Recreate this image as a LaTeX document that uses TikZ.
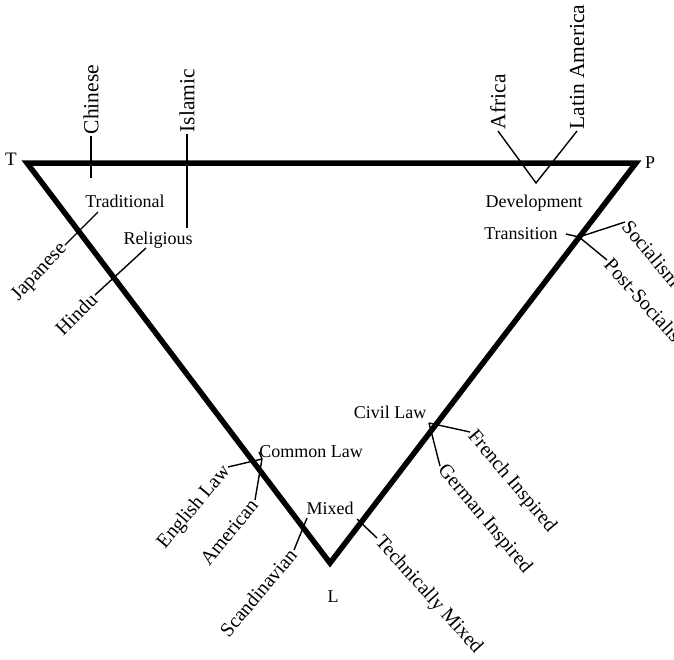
\documentclass[tikz,border=0pt]{standalone}
\usepackage{fontspec}
\setmainfont{Liberation Serif}
\begin{document}
\begin{tikzpicture}[x=1pt,y=-1pt,
  lbl/.style={inner sep=0pt, font=\fontsize{18}{20}\selectfont},
  rlbl/.style={inner sep=1.5pt, font=\fontsize{20}{22}\selectfont},
  vlbl/.style={inner sep=1.5pt, font=\fontsize{21.5}{24}\selectfont, rotate=90, anchor=west},
  tri/.style={line width=5.5pt, line join=miter},
  conn/.style={line width=1.4pt}]
\useasboundingbox (0,0) rectangle (674,659);
% triangle
\coordinate (T) at (27,163);
\coordinate (P) at (636,163);
\coordinate (L) at (330,563);
\draw[tri] (T) -- (P) -- (L) -- cycle;
\node[lbl, font=\fontsize{19}{22}\selectfont] (tT) at (11,159) {T};
\node[lbl] (tP) at (650,163) {P};
\node[lbl] (tL) at (333,597) {L};
% top left
\node[vlbl] (chinese) at (91,136) {Chinese};
\coordinate (chB) at (91,178);
\draw[conn] (chinese.west) -- (chB);
\node[vlbl] (islamic) at (187,134) {Islamic};
\coordinate (isB) at (187,228);
\draw[conn] (islamic.west) -- (isB);
\node[lbl] (trad) at (125,201) {Traditional};
\node[lbl] (relig) at (158,240) {Religious};
\coordinate (tradJ) at (98,212);
\node[rlbl, rotate=47, anchor=east] (japanese) at (65,245) {Japanese};
\draw[conn] (tradJ) -- (japanese.east);
\coordinate (religJ) at (146,248);
\node[rlbl, rotate=45, anchor=east] (hindu) at (95,295) {Hindu};
\draw[conn] (religJ) -- (hindu.east);
% top right
\node[vlbl] (africa) at (498,131) {Africa};
\node[vlbl] (latin) at (577,131) {Latin America};
\coordinate (devV) at (536,183);
\draw[conn] (africa.west) -- (devV) -- (latin.west);
\node[lbl] (dev) at (534,203) {Development};
\node[lbl] (trans) at (521,234) {Transition};
\coordinate (transJ) at (579,237);
\draw[conn] (trans.east) ++(8pt,0) -- (transJ);
\node[rlbl, rotate=-50, anchor=west] (social) at (625,222) {Socialism};
\node[rlbl, rotate=-48, anchor=west] (postsoc) at (607,260) {Post-Socialist};
\draw[conn] (transJ) -- (social.west);
\draw[conn] (transJ) -- (postsoc.west);
% bottom left
\node[lbl] (common) at (311,452) {Common Law};
\coordinate (clJ) at (262,459);
\node[rlbl, rotate=50, anchor=east] (english) at (228,467) {English Law};
\node[rlbl, rotate=51, anchor=east] (american) at (255,500) {American};
\draw[conn] (english.east) -- (clJ);
\draw[conn] (american.east) -- (clJ);
\draw[conn] (clJ) -- (common.west);
\node[lbl] (mixed) at (330,508) {Mixed};
\coordinate (mixJ) at (307,518);
\node[rlbl, rotate=50, anchor=east] (scand) at (294,550) {Scandinavian};
\draw[conn] (scand.east) -- (mixJ);
\coordinate (mixR) at (357,519);
\node[rlbl, rotate=-48, anchor=west] (techmix) at (377,538) {Technically Mixed};
\draw[conn] (mixR) -- (techmix.west);
% bottom right
\node[lbl] (civil) at (390,412) {Civil Law};
\coordinate (civJ) at (429,423);
\node[rlbl, rotate=-50, anchor=west] (french) at (470,432) {French Inspired};
\node[rlbl, rotate=-50, anchor=west] (german) at (440,466) {German Inspired};
\draw[conn] (civJ) -- (french.west);
\draw[conn] (civJ) -- (german.west);
\end{tikzpicture}
\end{document}
